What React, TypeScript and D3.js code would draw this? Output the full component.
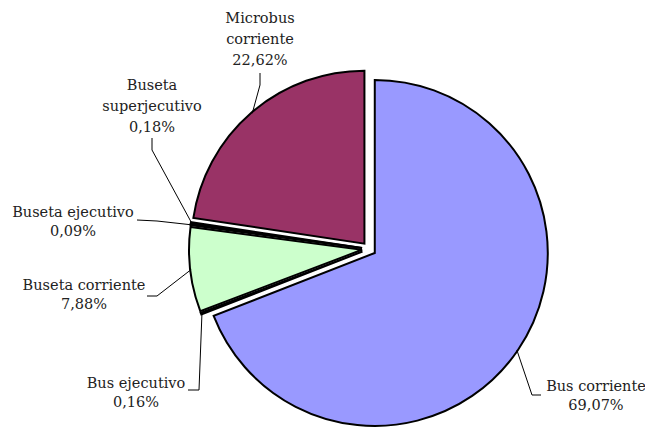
import React from "react";
import * as d3 from "d3";

const categories = [
  "Bus corriente",
  "Bus ejecutivo",
  "Buseta corriente",
  "Buseta ejecutivo",
  "Buseta superjecutivo",
  "Microbus corriente",
];
const values = [69.07, 0.16, 7.88, 0.09, 0.18, 22.62];
const colors = ["#9999FF", "#FFFFCC", "#CCFFCC", "#660066", "#660066", "#993366"];

// label text lines & layout (positions are layout, not data)
const labelLines = [
  ["Bus corriente", "69,07%"],
  ["Bus ejecutivo", "0,16%"],
  ["Buseta corriente", "7,88%"],
  ["Buseta ejecutivo", "0,09%"],
  ["Buseta", "superjecutivo", "0,18%"],
  ["Microbus", "corriente", "22,62%"],
];
const labelPos = [
  { x: 596, y: 391, elbow: [[541, 395], [532, 395]] },
  { x: 136, y: 388, elbow: [[188, 390], [199, 390]] },
  { x: 84, y: 290, elbow: [[147, 296], [157, 296]] },
  { x: 73, y: 217, elbow: [[137, 220], [157, 221]] },
  { x: 152, y: 90, elbow: [[152, 138], [152, 150]] },
  { x: 260, y: 23, elbow: [[260, 73], [260, 85]] },
];

const W = 645;
const H = 427;
const cx = 369;
const cy = 249;
const R = 173;
const explode = 7;

export default function App() {
  const pie = d3
    .pie<number>()
    .sort(null)
    .value((d) => d)
    .startAngle(0)
    .endAngle(2 * Math.PI);
  const arcs = pie(values);
  const arc = d3.arc<d3.PieArcDatum<number>>().innerRadius(0).outerRadius(R);

  return (
    <svg width={W} height={H} style={{ position: "absolute", left: 0, top: 0 }}>
      <rect width={W} height={H} fill="#fff" />
      {arcs.map((a, i) => {
        const mid = (a.startAngle + a.endAngle) / 2;
        const dx = Math.sin(mid) * explode;
        const dy = -Math.cos(mid) * explode;
        return (
          <path
            key={categories[i]}
            d={arc(a) || ""}
            transform={`translate(${cx + dx},${cy + dy})`}
            fill={colors[i]}
            stroke="#000"
            strokeWidth={2}
            strokeLinejoin="miter"
          />
        );
      })}
      {arcs.map((a, i) => {
        const mid = (a.startAngle + a.endAngle) / 2;
        const ox = cx + Math.sin(mid) * explode;
        const oy = cy - Math.cos(mid) * explode;
        const ex = ox + Math.sin(mid) * (R - 1);
        const ey = oy - Math.cos(mid) * (R - 1);
        const lp = labelPos[i];
        const pts = [...lp.elbow, [ex, ey]];
        const lh = labelLines[i].length === 3 ? 21 : 19;
        return (
          <g key={"l" + i}>
            <polyline
              points={pts.map((p) => p.join(",")).join(" ")}
              fill="none"
              stroke="#000"
              strokeWidth={1}
            />
            <text
              x={lp.x}
              y={lp.y}
              textAnchor="middle"
              fontFamily="'DejaVu Serif', serif"
              fontSize={14.5}
              fill="#222"
            >
              {labelLines[i].map((t, j) => (
                <tspan key={j} x={lp.x} dy={j === 0 ? 0 : lh}>
                  {t}
                </tspan>
              ))}
            </text>
          </g>
        );
      })}
    </svg>
  );
}
